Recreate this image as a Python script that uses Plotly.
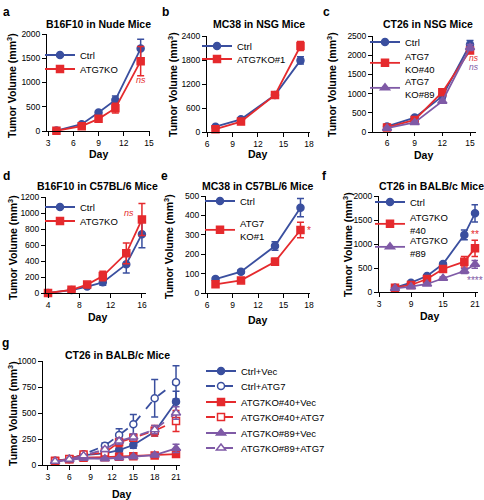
import plotly.graph_objects as go

W, H = 484, 500
FONT = "Arial, Liberation Sans, sans-serif"
BLUE = "#3a4f9f"
RED = "#e52a2d"
PURPLE = "#7f5aa6"

# ---------------- data ----------------
# a: B16F10 in Nude Mice
a_days = [4, 7, 9, 11, 14]
a_ctrl = [10, 140, 380, 640, 1700]
a_ctrl_err = [5, 20, 25, 80, 190]
a_ko = [5, 100, 250, 470, 1440]
a_ko_err = [5, 20, 30, 100, 300]

# b: MC38 in NSG Mice
b_days = [7, 10, 14, 17]
b_ctrl = [133, 317, 925, 1790]
b_ctrl_err = [20, 30, 40, 90]
b_ko = [70, 260, 925, 2150]
b_ko_err = [15, 30, 40, 110]

# c: CT26 in NSG Mice
c_days = [6, 9, 12, 15]
c_ctrl = [145, 375, 935, 2280]
c_ctrl_err = [20, 30, 50, 100]
c_ko40 = [120, 315, 1035, 2120]
c_ko40_err = [15, 30, 50, 70]
c_ko89 = [100, 250, 800, 2200]
c_ko89_err = [15, 25, 40, 80]

# d: B16F10 in C57BL/6 Mice
d_days = [4, 7, 9, 11, 14, 16]
d_ctrl = [0, 37, 80, 133, 360, 735]
d_ctrl_err = [0, 8, 15, 35, 110, 170]
d_ko = [0, 40, 105, 212, 496, 920]
d_ko_err = [0, 8, 15, 60, 130, 200]

# e: MC38 in C57BL/6 Mice
e_days = [7, 10, 14, 17]
e_ctrl = [72, 110, 242, 440]
e_ctrl_err = [8, 8, 22, 47]
e_ko = [45, 65, 161, 325]
e_ko_err = [8, 8, 18, 40]

# f: CT26 in BALB/c Mice
f_days = [6, 9, 12, 15, 19, 21]
f_ctrl = [90, 194, 333, 583, 1190, 1640]
f_ctrl_err = [15, 20, 25, 30, 100, 180]
f_ko40 = [90, 146, 271, 479, 632, 910]
f_ko40_err = [10, 15, 20, 40, 110, 170]
f_ko89 = [76, 111, 167, 285, 437, 577]
f_ko89_err = [10, 10, 15, 25, 50, 80]

# g: CT26 in BALB/c Mice (rescue)
g_days = [4, 6, 8, 11, 13, 15, 18, 21]
g_ctrl_vec = [40, 58, 96, 112, 144, 192, 320, 609]
g_ctrl_vec_err = [5, 8, 10, 15, 20, 30, 40, 100]
g_ctrl_atg7 = [32, 58, 103, 186, 288, 391, 641, 795]
g_ctrl_atg7_err = [5, 8, 12, 25, 60, 95, 180, 160]
g_ko40_vec = [40, 55, 70, 75, 80, 85, 92, 105]
g_ko40_vec_err = [5, 8, 10, 10, 12, 12, 15, 30]
g_ko40_atg7 = [35, 58, 100, 120, 218, 263, 330, 423]
g_ko40_atg7_err = [5, 8, 12, 20, 40, 30, 50, 100]
g_ko89_vec = [35, 50, 65, 60, 70, 80, 95, 160]
g_ko89_vec_err = [5, 6, 8, 10, 10, 12, 15, 40]
g_ko89_atg7 = [35, 55, 90, 150, 230, 270, 340, 500]
g_ko89_atg7_err = [5, 8, 10, 20, 30, 30, 40, 60]

# ---------------- layout helpers ----------------
fig = go.Figure()
layout = dict(width=W, height=H, margin=dict(l=0, r=0, t=0, b=0, autoexpand=False),
              paper_bgcolor="white", plot_bgcolor="white", showlegend=True,
              font=dict(family=FONT, color="black"))
annotations = []


def px_x(p):
    return p / W


def px_y(p):
    return 1 - p / H


def text(x, y, s, size, bold=False, color="black", angle=0, italic=False, xanchor="center"):
    if bold:
        s = "<b>" + s + "</b>"
    if italic:
        s = "<i>" + s + "</i>"
    annotations.append(dict(x=px_x(x), y=px_y(y), xref="paper", yref="paper", text=s,
                            showarrow=False, textangle=angle, xanchor=xanchor, yanchor="middle",
                            font=dict(size=size, color=color, family=FONT)))


legend_count = [0]


def add_series(ax, days, vals, err, name, color, symbol, dash, leg_x, leg_y, hollow=False):
    legend_count[0] += 1
    lid = "legend" if legend_count[0] == 1 else "legend%d" % legend_count[0]
    xa = "x" if ax == 1 else "x%d" % ax
    ya = "y" if ax == 1 else "y%d" % ax
    fig.add_trace(go.Scatter(
        x=days, y=vals, name=name, mode="lines+markers", xaxis=xa, yaxis=ya, legend=lid,
        line=dict(color=color, width=1.8, dash=dash),
        marker=dict(symbol=symbol, size=7 if symbol != "triangle-up" else 8,
                    color="white" if hollow else color,
                    line=dict(color=color, width=1.5)),
        error_y=dict(type="data", array=err, color=color, thickness=1.5, width=3.5),
        cliponaxis=False))
    layout[lid] = dict(x=px_x(leg_x - 40), y=px_y(leg_y), xanchor="left", yanchor="middle",
                       xref="paper", yref="paper", bgcolor="rgba(0,0,0,0)", borderwidth=0,
                       font=dict(size=9.5, family=FONT, color="black"), itemwidth=30,
                       tracegroupgap=0, valign="middle")


def add_axes(ax, xl, xr, yt, yb, xrange, yrange, xticks, yticks, xticklen=4):
    sx = "xaxis" if ax == 1 else "xaxis%d" % ax
    sy = "yaxis" if ax == 1 else "yaxis%d" % ax
    common = dict(showline=True, linecolor="black", linewidth=1, ticks="outside",
                  tickwidth=1, tickcolor="black", showgrid=False, zeroline=False,
                  tickmode="array", tickfont=dict(size=8.5, family=FONT, color="black"))
    layout[sx] = dict(domain=[px_x(xl), px_x(xr)], range=xrange, tickvals=xticks, ticklen=xticklen,
                      anchor="y" if ax == 1 else "y%d" % ax, **common)
    layout[sy] = dict(domain=[px_y(yb), px_y(yt)], range=yrange, tickvals=yticks, ticklen=4,
                      anchor="x" if ax == 1 else "x%d" % ax, **common)


YT = "Tumor Volume (mm<sup>3</sup>)"

# ---- a ----
add_axes(1, 47, 150, 34, 131, [2.88, 15.11], [0, 2000], [3, 6, 9, 12, 15], [0, 500, 1000, 1500, 2000])
add_series(1, a_days, a_ctrl, a_ctrl_err, "Ctrl", BLUE, "circle", "solid", 80, 55)
add_series(1, a_days, a_ko, a_ko_err, "ATG7KO", RED, "square", "solid", 80, 69)
text(98, 154, "Day", 10.5, bold=True)
text(98, 24, "B16F10 in Nude Mice", 10.5, bold=True)
text(12, 86, YT, 10.5, bold=True, angle=-90)
text(6, 12, "a", 12, bold=True)
annotations.append(dict(x=14, y=1050, xref="x", yref="y", text="<i>ns</i>", showarrow=False,
                        font=dict(size=9, color=RED, family=FONT)))

# ---- b ----
add_axes(2, 207, 310, 36, 132, [6, 18.12], [0, 2400], [6, 9, 12, 15, 18], [0, 600, 1200, 1800, 2400])
add_series(2, b_days, b_ctrl, b_ctrl_err, "Ctrl", BLUE, "circle", "solid", 237, 46)
add_series(2, b_days, b_ko, b_ko_err, "ATG7KO#1", RED, "square", "solid", 237, 59)
text(259, 24, "MC38 in NSG Mice", 10.5, bold=True)
text(257, 154, "Day", 10.5, bold=True)
text(172, 85, YT, 10.5, bold=True, angle=-90)
text(165, 12, "b", 12, bold=True)
annotations.append(dict(x=17, y=2440, xref="x2", yref="y2", text="<i>ns</i>", showarrow=False,
                        font=dict(size=9, color=RED, family=FONT)))

# ---- c ----
add_axes(3, 373, 476, 36, 132, [4.48, 15.65], [0, 2500], [6, 9, 12, 15],
         [0, 500, 1000, 1500, 2000, 2500], xticklen=3)
add_series(3, c_days, c_ctrl, c_ctrl_err, "Ctrl", BLUE, "circle", "solid", 405, 42)
add_series(3, c_days, c_ko40, c_ko40_err, "ATG7<br>KO#40", RED, "square", "solid", 405, 63)
add_series(3, c_days, c_ko89, c_ko89_err, "ATG7<br>KO#89", PURPLE, "triangle-up", "solid", 405, 88)
text(428, 24, "CT26 in NSG Mice", 10.5, bold=True)
text(423, 155, "Day", 10.5, bold=True)
text(331, 85, YT, 10.5, bold=True, angle=-90)
text(326, 12, "c", 12, bold=True)
annotations.append(dict(x=15.4, y=1930, xref="x3", yref="y3", text="<i>ns</i>", showarrow=False,
                        font=dict(size=8.5, color=RED, family=FONT)))
annotations.append(dict(x=15.4, y=1700, xref="x3", yref="y3", text="<i>ns</i>", showarrow=False,
                        font=dict(size=8.5, color=PURPLE, family=FONT)))

# ---- d ----
add_axes(4, 46, 146, 197, 293, [3.74, 16.52], [0, 1200], [4, 8, 12, 16], [0, 200, 400, 600, 800, 1000, 1200])
add_series(4, d_days, d_ctrl, d_ctrl_err, "Ctrl", BLUE, "circle", "solid", 80, 207)
add_series(4, d_days, d_ko, d_ko_err, "ATG7KO", RED, "square", "solid", 80, 221)
text(97, 186, "B16F10 in C57BL/6 Mice", 10.5, bold=True)
text(97, 317, "Day", 10.5, bold=True)
text(12, 248, YT, 10.5, bold=True, angle=-90)
text(6, 176, "d", 12, bold=True)
annotations.append(dict(x=14.3, y=1000, xref="x4", yref="y4", text="<i>ns</i>", showarrow=False,
                        font=dict(size=9, color=RED, family=FONT)))

# ---- e ----
add_axes(5, 206, 310, 196, 293, [5.88, 18.12], [0, 500], [6, 9, 12, 15, 18], [0, 100, 200, 300, 400, 500])
add_series(5, e_days, e_ctrl, e_ctrl_err, "Ctrl", BLUE, "circle", "solid", 240, 201)
add_series(5, e_days, e_ko, e_ko_err, "ATG7<br>KO#1", RED, "square", "solid", 240, 230)
text(258, 186, "MC38 in C57BL/6 Mice", 10.5, bold=True)
text(257, 320, "Day", 10.5, bold=True)
text(168, 247, YT, 10.5, bold=True, angle=-90)
text(164, 176, "e", 12, bold=True)
annotations.append(dict(x=18, y=320, xref="x5", yref="y5", text="*", showarrow=False,
                        font=dict(size=10, color=RED, family=FONT)))

# ---- f ----
add_axes(6, 379, 478, 196, 292, [3, 21.56], [0, 2000], [3, 9, 15, 21], [0, 500, 1000, 1500, 2000])
add_series(6, f_days, f_ctrl, f_ctrl_err, "Ctrl", BLUE, "circle", "solid", 410, 202)
add_series(6, f_days, f_ko40, f_ko40_err, "ATG7KO<br>#40", RED, "square", "solid", 410, 224)
add_series(6, f_days, f_ko89, f_ko89_err, "ATG7KO<br>#89", PURPLE, "triangle-up", "solid", 410, 247)
text(431, 186, "CT26 in BALB/c Mice", 10.5, bold=True)
text(429, 316, "Day", 10.5, bold=True)
text(347, 245, YT, 10.5, bold=True, angle=-90)
text(324, 176, "f", 12, bold=True)
annotations.append(dict(x=21, y=1200, xref="x6", yref="y6", text="**", showarrow=False,
                        font=dict(size=10, color=RED, family=FONT)))
annotations.append(dict(x=21, y=230, xref="x6", yref="y6", text="****", showarrow=False,
                        font=dict(size=10, color=PURPLE, family=FONT)))

# ---- g ----
add_axes(7, 43, 180, 361, 465, [2.3, 21.56], [0, 1000], [3, 6, 9, 12, 15, 18, 21], [0, 250, 500, 750, 1000])
add_series(7, g_days, g_ctrl_vec, g_ctrl_vec_err, "Ctrl+Vec", BLUE, "circle", "solid", 241, 371)
add_series(7, g_days, g_ctrl_atg7, g_ctrl_atg7_err, "Ctrl+ATG7", BLUE, "circle", "dash", 241, 386, hollow=True)
add_series(7, g_days, g_ko40_vec, g_ko40_vec_err, "ATG7KO#40+Vec", RED, "square", "solid", 241, 402)
add_series(7, g_days, g_ko40_atg7, g_ko40_atg7_err, "ATG7KO#40+ATG7", RED, "square", "dash", 241, 417, hollow=True)
add_series(7, g_days, g_ko89_vec, g_ko89_vec_err, "ATG7KO#89+Vec", PURPLE, "triangle-up", "solid", 241, 433)
add_series(7, g_days, g_ko89_atg7, g_ko89_atg7_err, "ATG7KO#89+ATG7", PURPLE, "triangle-up", "dash", 241, 448, hollow=True)
text(117, 355, "CT26 in BALB/c Mice", 10.5, bold=True)
text(121, 494, "Day", 10.5, bold=True)
text(12, 414, YT, 10.5, bold=True, angle=-90)
text(5, 343, "g", 12, bold=True)
for yv, s, c in [(500, "**", PURPLE), (420, "**", RED), (180, "**", PURPLE), (105, "***", RED)]:
    annotations.append(dict(x=22.8, y=yv, xref="x7", yref="y7", text=s, showarrow=False,
                            font=dict(size=10, color=c, family=FONT)))

layout["annotations"] = annotations
fig.update_layout(**layout)
fig.write_html("out.html", config={"displayModeBar": False},
               post_script="document.body.style.margin='0';document.body.style.overflow='hidden';")
